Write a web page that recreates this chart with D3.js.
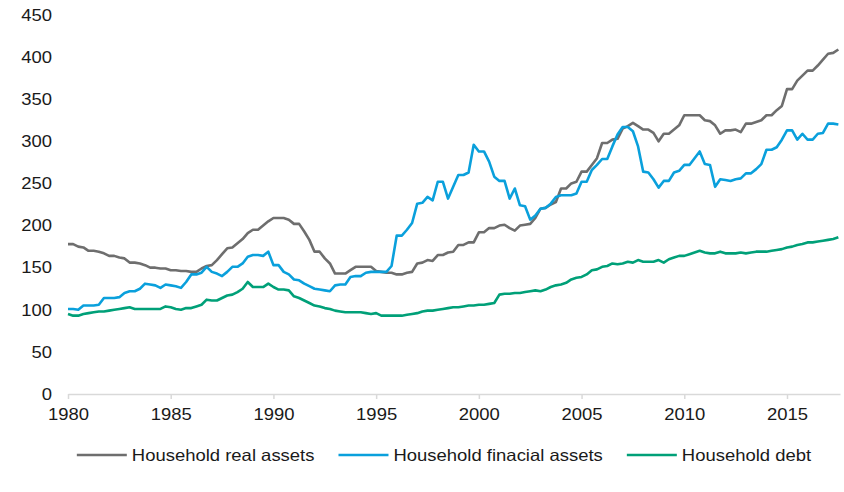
<!DOCTYPE html>
<html lang="en">
<head>
<meta charset="utf-8">
<title>Household assets and debt</title>
<script src="https://cdn.jsdelivr.net/npm/d3@7/dist/d3.min.js"></script>
<style>
  body { margin: 0; background: #fff; }
  svg text { font-family: "Liberation Sans", Arial, sans-serif; fill: #1a1a1a; }
</style>
</head>
<body>
<svg width="844" height="492"></svg>
<script>
// quarterly, 1980Q1 .. 2017Q3
var startYear = 1980;

var realAssets = [
  178, 178, 175, 174,  170, 170, 169, 167,  164, 164, 162, 161,  156, 156, 155, 153,
  150, 150, 149, 149,  147, 147, 146, 146,  145, 145, 149, 152,  153, 159, 166, 173,
  174, 179, 184, 191,  195, 195, 200, 205,  209, 209, 209, 207,  202, 202, 193, 183,
  169, 169, 161, 155,  143, 143, 143, 147,  151, 151, 151, 151,  146, 145, 144, 144,
  142, 142, 144, 145,  155, 156, 159, 158,  165, 165, 168, 169,  177, 177, 180, 180,
  192, 192, 197, 197,  200, 201, 197, 194,  200, 201, 202, 209,  220, 221, 225, 228,
  244, 244, 250, 252,  264, 264, 272, 280,  298, 298, 302, 303,  315, 318, 322, 318,
  314, 314, 310, 300,  309, 309, 314, 319,  331, 331, 331, 331,  325, 324, 319, 309,
  313, 313, 314, 311,  321, 321, 323, 325,  331, 331, 337, 342,  362, 362, 372, 378,
  384, 384, 390, 397,  404, 405, 409
];

var financialAssets = [
  101, 101, 100, 105,  105, 105, 106, 114,  114, 114, 115, 120,  122, 122, 125, 131,
  130, 129, 126, 130,  129, 128, 126, 133,  142, 142, 144, 151,  145, 143, 140, 145,
  151, 151, 155, 163,  165, 165, 164, 169,  153, 153, 145, 142,  136, 135, 131, 128,
  125, 124, 123, 122,  129, 130, 130, 139,  140, 140, 144, 145,  145, 145, 145, 152,
  188, 188, 195, 203,  226, 227, 234, 230,  252, 252, 232, 246,  260, 260, 263, 296,
  288, 288, 276, 258,  253, 253, 232, 244,  224, 223, 207, 212,  220, 221, 226, 234,
  236, 236, 236, 238,  252, 252, 266, 272,  279, 279, 294, 308,  317, 317, 312, 294,
  264, 263, 255, 245,  253, 253, 263, 265,  272, 272, 280, 288,  273, 272, 246, 255,
  254, 253, 255, 256,  262, 262, 267, 273,  290, 290, 293, 302,  313, 313, 302, 309,
  302, 302, 309, 310,  321, 321, 320
];

var householdDebt = [
   95,  93,  93,  95,   96,  97,  98,  98,   99, 100, 101, 102,  103, 101, 101, 101,
  101, 101, 101, 104,  103, 101, 100, 102,  102, 104, 106, 112,  111, 111, 114, 117,
  118, 121, 125, 133,  127, 127, 127, 131,  127, 124, 124, 123,  116, 114, 111, 108,
  105, 104, 102, 101,   99,  98,  97,  97,   97,  97,  96,  95,   96,  93,  93,  93,
   93,  93,  94,  95,   96,  98,  99,  99,  100, 101, 102, 103,  103, 104, 105, 105,
  106, 106, 107, 108,  118, 119, 119, 120,  120, 121, 122, 123,  122, 124, 127, 129,
  130, 132, 136, 138,  139, 142, 147, 148,  151, 152, 155, 154,  155, 157, 156, 159,
  157, 157, 157, 159,  156, 160, 162, 164,  164, 166, 168, 170,  168, 167, 167, 169,
  167, 167, 167, 168,  167, 168, 169, 169,  169, 170, 171, 172,  174, 175, 177, 178,
  180, 180, 181, 182,  183, 184, 186
];

var seriesNames = ["Household real assets", "Household finacial assets", "Household debt"];
var seriesColors = ["#6e6e6e", "#0aa0dc", "#00a078"];
var yTicks = [0, 50, 100, 150, 200, 250, 300, 350, 400, 450];
var xTicks = [1980, 1985, 1990, 1995, 2000, 2005, 2010, 2015];

var svg = d3.select("svg");
var plotLeft = 68, plotRight = 840, plotTop = 15, plotBottom = 394;
var stretch = 1.12;

var x = d3.scaleLinear().domain([1980, 2017.58]).range([plotLeft, plotRight]);
var y = d3.scaleLinear().domain([0, 450]).range([plotBottom, plotTop]);

var series = [realAssets, financialAssets, householdDebt].map(function(vals, k) {
  return {
    name: seriesNames[k],
    color: seriesColors[k],
    values: vals.map(function(v, i) { return { t: startYear + i / 4, v: v }; })
  };
});

// y axis, labels only
var yAxis = svg.append("g")
  .attr("transform", "translate(" + plotLeft + ",0)")
  .call(d3.axisLeft(y).tickValues(yTicks).tickSize(0).tickPadding(0));
yAxis.select(".domain").remove();
yAxis.selectAll("text")
  .attr("x", -16 / stretch)
  .attr("transform", "scale(" + stretch + ",1)")
  .style("font-size", "16.5px");

// x axis
var xAxis = svg.append("g")
  .attr("transform", "translate(0," + plotBottom + ")")
  .call(d3.axisBottom(x).tickValues(xTicks).tickFormat(d3.format("d")).tickSize(5).tickSizeOuter(0));
xAxis.select(".domain").attr("stroke", "#d9d9d9").attr("stroke-width", 1.5);
xAxis.selectAll(".tick line").attr("stroke", "#d9d9d9").attr("stroke-width", 1.5);
xAxis.selectAll("text")
  .attr("y", 14)
  .attr("transform", "scale(" + stretch + ",1)")
  .style("font-size", "16.5px");

var line = d3.line()
  .x(function(d) { return x(d.t); })
  .y(function(d) { return y(d.v); });

svg.append("g").selectAll("path")
  .data(series)
  .enter().append("path")
  .attr("fill", "none")
  .attr("stroke", function(d) { return d.color; })
  .attr("stroke-width", 2.6)
  .attr("stroke-linejoin", "round")
  .attr("d", function(d) { return line(d.values); });

// legend
var legend = svg.append("g").attr("transform", "translate(0,455)");
var items = legend.selectAll("g").data(series).enter().append("g");
items.append("line")
  .attr("x1", 0).attr("x2", 50)
  .attr("stroke", function(d) { return d.color; })
  .attr("stroke-width", 2.6);
items.append("text")
  .attr("x", 55 / stretch)
  .attr("dy", "0.35em")
  .attr("transform", "scale(" + stretch + ",1)")
  .style("font-size", "16.5px")
  .text(function(d) { return d.name; });

var widths = [];
items.each(function() {
  var t = d3.select(this).select("text").node();
  widths.push(55 + t.getComputedTextLength() * stretch);
});
var gap = 24;
var total = d3.sum(widths) + gap * (widths.length - 1);
var pos = 444 - total / 2;
items.attr("transform", function(d, i) {
  var p = pos;
  pos += widths[i] + gap;
  return "translate(" + p + ",0)";
});
</script>
</body>
</html>
